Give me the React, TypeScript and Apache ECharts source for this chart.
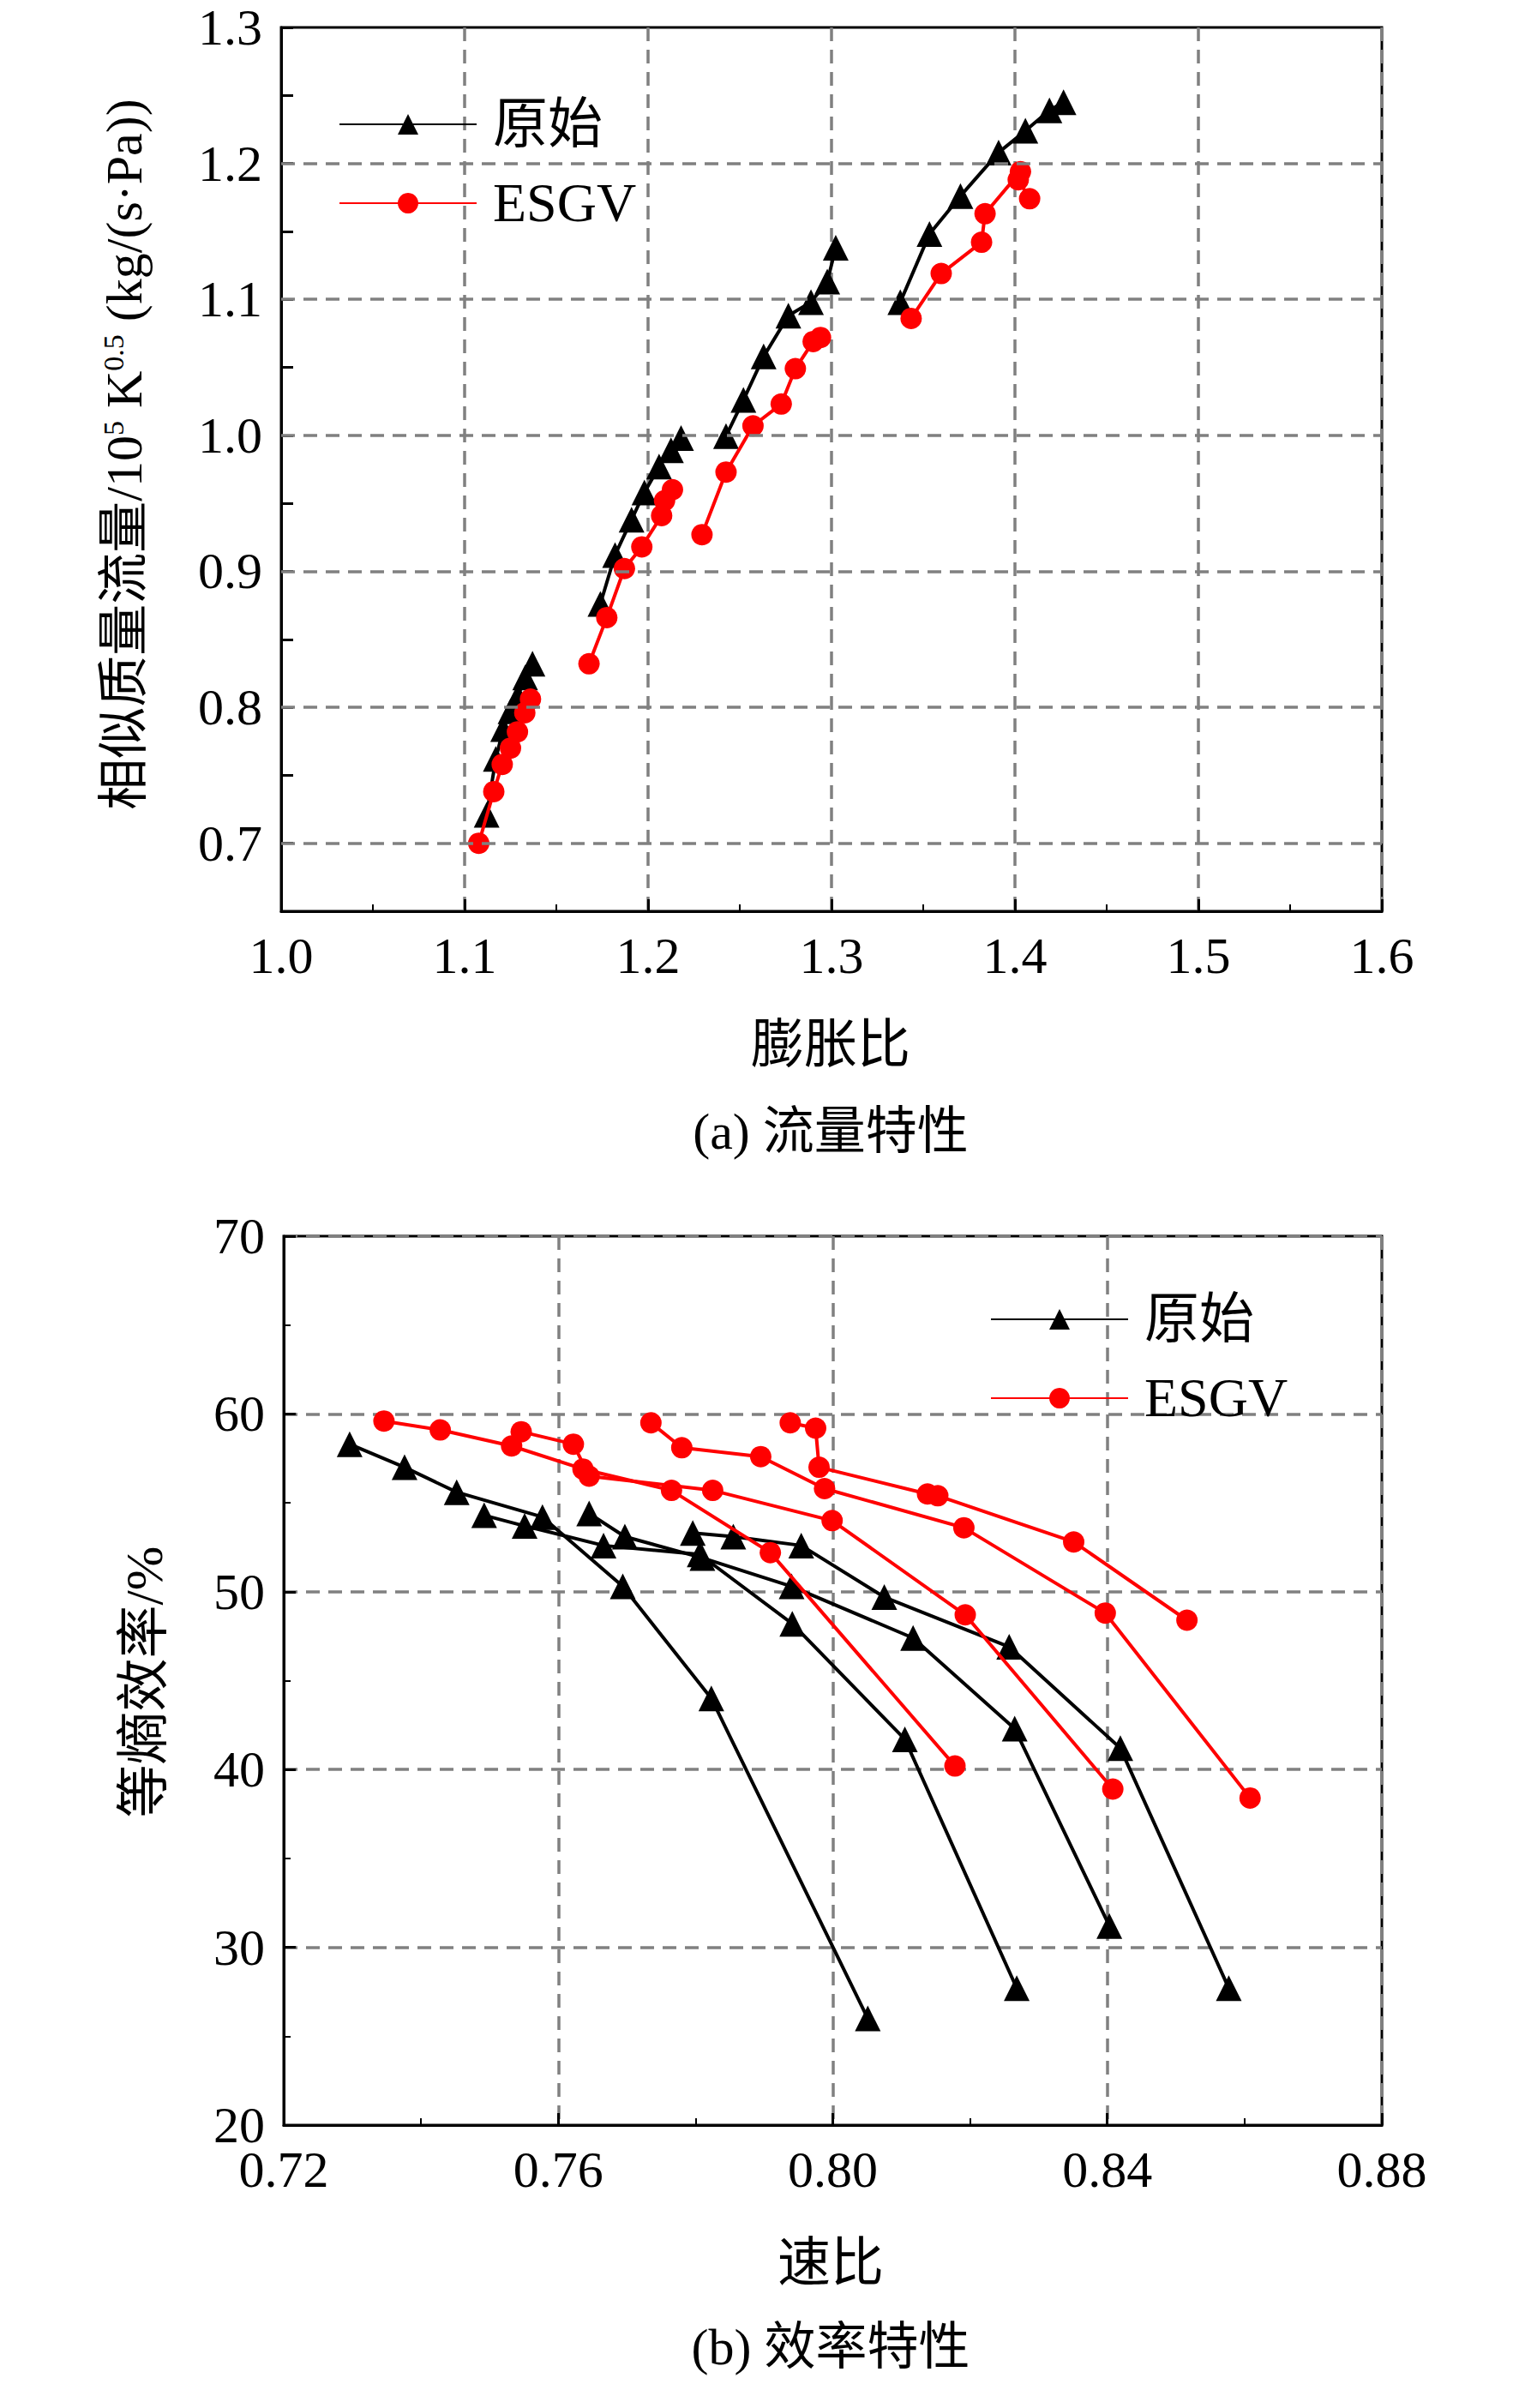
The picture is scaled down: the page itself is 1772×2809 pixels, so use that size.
import { useEffect, useRef } from 'react';
import * as echarts from 'echarts';

// (a) flow characteristic: [expansion ratio, corrected mass flow]
const flowOrig1 = [[1.112, 0.721], [1.117, 0.762], [1.121, 0.784], [1.125, 0.797], [1.129, 0.808], [1.133, 0.822], [1.137, 0.832]];
const flowOrig2 = [[1.174, 0.876], [1.182, 0.912], [1.191, 0.938], [1.198, 0.958], [1.206, 0.977], [1.2125, 0.989], [1.218, 0.998]];
const flowOrig3 = [[1.2425, 0.9995], [1.252, 1.026], [1.263, 1.058], [1.2765, 1.088], [1.2888, 1.098], [1.2977, 1.113], [1.3023, 1.138]];
const flowOrig4 = [[1.3375, 1.098], [1.3534, 1.148], [1.3703, 1.176], [1.3911, 1.208], [1.4057, 1.224], [1.4188, 1.239], [1.4265, 1.245]];
const flowEsgv1 = [[1.1077, 0.7], [1.1159, 0.738], [1.1205, 0.758], [1.125, 0.77], [1.1288, 0.782], [1.1328, 0.796], [1.1359, 0.806]];
const flowEsgv2 = [[1.1678, 0.832], [1.1775, 0.866], [1.1871, 0.902], [1.1966, 0.918], [1.2074, 0.941], [1.209, 0.952], [1.2133, 0.96]];
const flowEsgv3 = [[1.2294, 0.927], [1.2425, 0.973], [1.2572, 1.007], [1.2726, 1.023], [1.2803, 1.049], [1.29, 1.069], [1.294, 1.072]];
const flowEsgv4 = [[1.3434, 1.086], [1.3598, 1.119], [1.3818, 1.142], [1.3837, 1.163], [1.403, 1.194], [1.4018, 1.188], [1.408, 1.174]];

// (b) efficiency characteristic: [velocity ratio, isentropic efficiency %]
const effOrig1 = [[0.7296, 58.3], [0.7376, 57.0], [0.7452, 55.6], [0.7577, 54.2], [0.7694, 50.3], [0.7823, 44.0], [0.8051, 26.0]];
const effOrig2 = [[0.7492, 54.3], [0.7551, 53.7], [0.7666, 52.6], [0.7806, 52.1], [0.7941, 48.2], [0.8105, 41.7], [0.8268, 27.7]];
const effOrig3 = [[0.7645, 54.4], [0.7697, 53.1], [0.781, 51.9], [0.794, 50.3], [0.8117, 47.4], [0.8265, 42.3], [0.8403, 31.2]];
const effOrig4 = [[0.7796, 53.3], [0.7855, 53.1], [0.7954, 52.6], [0.8075, 49.7], [0.8257, 46.9], [0.8419, 41.2], [0.8577, 27.7]];
const effEsgv1 = [[0.7346, 59.6], [0.7428, 59.1], [0.7532, 58.2], [0.7636, 56.9], [0.7765, 55.7], [0.7909, 52.2], [0.8178, 40.2]];
const effEsgv2 = [[0.7546, 59.0], [0.7622, 58.3], [0.7645, 56.5], [0.7825, 55.7], [0.7999, 54.0], [0.8193, 48.7], [0.8408, 38.9]];
const effEsgv3 = [[0.7735, 59.5], [0.778, 58.1], [0.7895, 57.6], [0.7988, 55.8], [0.8191, 53.6], [0.8397, 48.8], [0.8608, 38.4]];
const effEsgv4 = [[0.7938, 59.5], [0.7975, 59.2], [0.798, 57.0], [0.8138, 55.5], [0.8153, 55.4], [0.8351, 52.8], [0.8516, 48.4]];

const topGridY = [0.7, 0.8, 0.9, 1.0, 1.1, 1.2];
const legendNames = ['原始', 'ESGV'];

const SERIF = '"Liberation Serif", "Noto Sans CJK SC", serif';
const GRID_LINE = { color: '#808080', width: 3.5, type: [16, 10] as number[] };

function line(name: string, data: number[][], idx: number) {
  const black = name === '原始';
  return {
    name,
    type: 'line',
    xAxisIndex: idx,
    yAxisIndex: idx,
    data,
    symbol: black ? 'triangle' : 'circle',
    symbolSize: black ? 30 : 25,
    itemStyle: { color: black ? '#000' : '#ff0000' },
    lineStyle: { color: black ? '#000' : '#ff0000', width: 4 },
    z: black ? 3 : 4,
  };
}

const legendBase = {
  data: legendNames, orient: 'vertical', itemGap: 28,
  itemWidth: 160, itemHeight: 30,
  textStyle: { fontFamily: SERIF, fontSize: 64, color: '#000', padding: [0, 0, 0, 14] },
};

export default function App() {
  const ref = useRef<HTMLDivElement | null>(null);

  useEffect(() => {
    if (!ref.current) return;
    document.body.style.margin = '0';
    const chart = echarts.init(ref.current, null, { renderer: 'svg' });

    const axisCommon = {
      axisLine: { show: true, lineStyle: { color: '#000', width: 3 } },
      axisTick: { inside: true, length: 14, lineStyle: { color: '#000', width: 3 } },
      minorTick: { show: true, splitNumber: 2, length: 8, lineStyle: { color: '#000', width: 2 } },
      axisLabel: { color: '#000', fontFamily: SERIF, fontSize: 60, margin: 22 },
    };

    chart.setOption({
      animation: false,
      backgroundColor: '#fff',
      grid: [
        { left: 328, top: 32, width: 1284, height: 1031, show: true, borderColor: '#000', borderWidth: 3 },
        { left: 331, top: 1442, width: 1281, height: 1037, show: true, borderColor: '#000', borderWidth: 3 },
      ],
      xAxis: [
        {
          ...axisCommon, type: 'value', gridIndex: 0, min: 1.0, max: 1.6, interval: 0.1,
          axisLabel: { ...axisCommon.axisLabel, formatter: (v: number) => v.toFixed(1) },
          splitLine: { show: true, lineStyle: GRID_LINE },
        },
        {
          ...axisCommon, type: 'value', gridIndex: 1, min: 0.72, max: 0.88, interval: 0.04,
          axisLabel: { ...axisCommon.axisLabel, formatter: (v: number) => v.toFixed(2) },
          splitLine: { show: true, lineStyle: GRID_LINE },
        },
      ],
      yAxis: [
        {
          ...axisCommon, type: 'value', gridIndex: 0, min: 0.65, max: 1.3, interval: 0.05,
          minorTick: { show: false },
          axisLabel: {
            ...axisCommon.axisLabel,
            formatter: (v: number) => (Math.abs(v * 10 - Math.round(v * 10)) < 1e-6 ? v.toFixed(1) : ''),
          },
          splitLine: { show: false },
        },
        {
          ...axisCommon, type: 'value', gridIndex: 1, min: 20, max: 70, interval: 10,
          splitLine: { show: true, lineStyle: GRID_LINE },
        },
      ],
      legend: [
        { ...legendBase, left: 390, top: 108 },
        { ...legendBase, left: 1150, top: 1502 },
      ],
      series: [
        {
          type: 'line', xAxisIndex: 0, yAxisIndex: 0, data: [], silent: true,
          markLine: {
            silent: true, symbol: 'none', label: { show: false }, lineStyle: GRID_LINE,
            data: topGridY.map((y) => ({ yAxis: y })),
          },
        },
        line('原始', flowOrig1, 0), line('原始', flowOrig2, 0), line('原始', flowOrig3, 0), line('原始', flowOrig4, 0),
        line('ESGV', flowEsgv1, 0), line('ESGV', flowEsgv2, 0), line('ESGV', flowEsgv3, 0), line('ESGV', flowEsgv4, 0),
        line('原始', effOrig1, 1), line('原始', effOrig2, 1), line('原始', effOrig3, 1), line('原始', effOrig4, 1),
        line('ESGV', effEsgv1, 1), line('ESGV', effEsgv2, 1), line('ESGV', effEsgv3, 1), line('ESGV', effEsgv4, 1),
      ],
      graphic: [
        {
          type: 'text', x: 145, y: 530, rotation: Math.PI / 2,
          style: {
            text: '相似质量流量/10{sup|5} K{sup|0.5} (kg/(s·Pa))',
            font: `60px ${SERIF}`, fill: '#000', align: 'center', verticalAlign: 'middle',
            rich: { sup: { fontSize: 34, fontFamily: SERIF, verticalAlign: 'top', padding: [0, 0, 26, 0] } },
          },
        },
        {
          type: 'text', x: 969, y: 1219,
          style: { text: '膨胀比', font: `62px ${SERIF}`, fill: '#000', align: 'center', verticalAlign: 'middle' },
        },
        {
          type: 'text', x: 969, y: 1320,
          style: { text: '(a) 流量特性', font: `60px ${SERIF}`, fill: '#000', align: 'center', verticalAlign: 'middle' },
        },
        {
          type: 'text', x: 168, y: 1962, rotation: Math.PI / 2,
          style: { text: '等熵效率/%', font: `62px ${SERIF}`, fill: '#000', align: 'center', verticalAlign: 'middle' },
        },
        {
          type: 'text', x: 969, y: 2640,
          style: { text: '速比', font: `62px ${SERIF}`, fill: '#000', align: 'center', verticalAlign: 'middle' },
        },
        {
          type: 'text', x: 969, y: 2738,
          style: { text: '(b) 效率特性', font: `60px ${SERIF}`, fill: '#000', align: 'center', verticalAlign: 'middle' },
        },
      ],
    });

    return () => chart.dispose();
  }, []);

  return <div ref={ref} style={{ width: 1772, height: 2809 }} />;
}
